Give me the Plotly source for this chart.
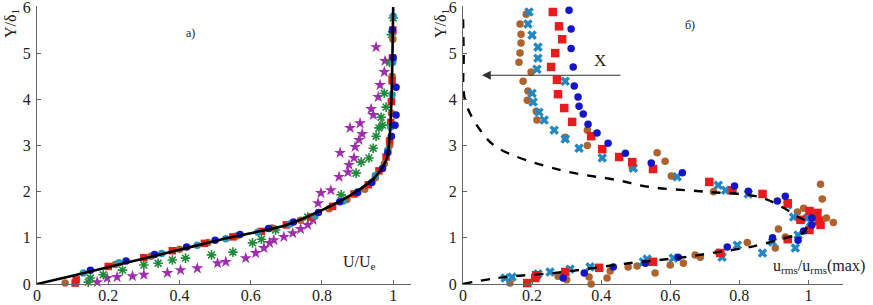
import plotly.graph_objects as go

# ---------------- data: panel a) ----------------
curve_a_x = [0, 0.1, 0.25, 0.4, 0.515, 0.6, 0.7, 0.8, 0.89, 0.946, 0.98, 0.99, 0.995, 0.998, 1.0]
curve_a_y = [0, 0.18, 0.46, 0.74, 0.96, 1.1, 1.28, 1.6, 1.97, 2.29, 2.68, 3.2, 4.0, 5.0, 6.0]

a_blue_x = [0.15, 0.25, 0.33, 0.42, 0.5, 0.57, 0.65, 0.72, 0.79, 0.85, 0.9, 0.94, 0.97, 0.985, 0.995, 1.005, 1.008, 1.008, 1.0, 0.998]
a_blue_y = [0.3, 0.5, 0.64, 0.8, 0.95, 1.07, 1.2, 1.34, 1.55, 1.78, 1.98, 2.2, 2.5, 2.85, 3.2, 3.44, 3.66, 4.26, 4.9, 5.5]
a_red_x = [0.107, 0.11, 0.2, 0.3, 0.38, 0.47, 0.55, 0.63, 0.7, 0.77, 0.83, 0.89, 0.93, 0.96, 0.98, 0.99, 0.993, 0.995, 0.997, 0.998, 0.999]
a_red_y = [0.02, 0.09, 0.38, 0.57, 0.72, 0.88, 1.02, 1.14, 1.28, 1.45, 1.68, 1.95, 2.15, 2.45, 2.75, 3.1, 3.5, 3.95, 4.4, 4.9, 5.5]
a_brown_x = [0.079, 0.22, 0.32, 0.4, 0.48, 0.56, 0.66, 0.74, 0.82, 0.87, 0.92, 0.95, 0.975, 0.99, 0.995, 0.997, 0.999]
a_brown_y = [0.02, 0.42, 0.6, 0.75, 0.9, 1.04, 1.21, 1.38, 1.63, 1.83, 2.05, 2.3, 2.6, 3.0, 3.7, 4.5, 5.3]
a_teal_x = [0.13, 0.23, 0.35, 0.45, 0.53, 0.62, 0.71, 0.78, 0.86, 0.9, 0.95, 0.985, 0.993, 0.997, 0.999, 1.0]
a_teal_y = [0.24, 0.46, 0.66, 0.84, 0.98, 1.12, 1.3, 1.48, 1.8, 2.0, 2.35, 2.9, 3.4, 4.1, 4.8, 5.8]
a_green_x = [0.144, 0.15, 0.186, 0.24, 0.3, 0.34, 0.38, 0.417, 0.49, 0.55, 0.605, 0.63, 0.67, 0.76, 0.854, 0.896, 0.91,
             0.932, 0.944, 0.952, 0.96, 0.97, 0.966, 0.98, 0.975, 0.99, 0.995, 1.0]
a_green_y = [0.04, 0.13, 0.2, 0.3, 0.41, 0.45, 0.52, 0.56, 0.63, 0.69, 0.89, 0.97, 1.17, 1.45, 1.93, 2.4, 2.64,
             2.73, 2.94, 3.2, 3.38, 3.44, 3.61, 3.83, 4.13, 4.8, 5.4, 5.76]
a_mag_x = [0.169, 0.197, 0.225, 0.268, 0.3, 0.366, 0.403, 0.45, 0.507, 0.53, 0.586, 0.614, 0.637, 0.653, 0.665, 0.693,
           0.718, 0.74, 0.76, 0.775, 0.789, 0.797, 0.825, 0.848, 0.873, 0.876, 0.89, 0.851, 0.893, 0.904, 0.913, 0.879,
           0.907, 0.944, 0.938, 0.958, 0.963, 0.975, 0.977, 0.952]
a_mag_y = [0.04, 0.13, 0.15, 0.17, 0.2, 0.24, 0.3, 0.34, 0.45, 0.48, 0.56, 0.67, 0.78, 0.89, 0.95, 1.02,
           1.1, 1.19, 1.28, 1.39, 1.75, 1.97, 2.03, 2.32, 2.42, 2.58, 2.73, 2.84, 2.97, 3.12, 3.25, 3.38,
           3.48, 3.66, 3.79, 4.05, 4.31, 4.59, 4.83, 5.13]

# ---------------- data: panel б) ----------------
curve_b_x = [0, 0.1, 0.29, 0.48, 0.64, 0.736, 0.83, 0.93, 0.986, 0.997, 0.97, 0.93, 0.86, 0.7, 0.54, 0.446, 0.28,
             0.1, 0.05, 0.006, 0.002, 0.0]
curve_b_y = [0, 0.13, 0.26, 0.45, 0.58, 0.69, 0.8, 0.99, 1.12, 1.34, 1.45, 1.64, 1.88, 2.0, 2.1, 2.25, 2.47,
             2.95, 3.33, 3.98, 5.0, 5.85]

b_blue_x = [0.307, 0.313, 0.313, 0.319, 0.322, 0.333, 0.336, 0.348, 0.362, 0.388, 0.42, 0.47, 0.545, 0.635, 0.786,
            0.826, 0.91, 0.933, 1.01, 1.01, 0.986, 0.97, 0.896, 0.765, 0.623, 0.528, 0.435, 0.351, 0.29]
b_blue_y = [5.93, 5.52, 5.1, 4.7, 4.29, 4.05, 3.85, 3.68, 3.46, 3.27, 3.05, 2.83, 2.62, 2.41, 2.12,
            2.01, 1.8, 1.9, 1.43, 1.28, 1.15, 0.95, 1.0, 0.8, 0.58, 0.45, 0.37, 0.24, 0.13]
b_red_x = [0.26, 0.278, 0.287, 0.267, 0.255, 0.272, 0.275, 0.293, 0.316, 0.371, 0.403, 0.452, 0.49, 0.55, 0.713,
           0.78, 0.867, 0.94, 1.003, 1.026, 0.977, 1.03, 1.035, 1.003, 0.94, 0.745, 0.55, 0.394, 0.296, 0.212,
           0.209, 0.186]
b_red_y = [5.89, 5.58, 5.3, 5.0, 4.7, 4.42, 4.11, 3.81, 3.51, 3.2, 2.92, 2.75, 2.64, 2.49, 2.21,
           2.03, 1.95, 1.75, 1.58, 1.54, 1.39, 1.37, 1.28, 1.17, 0.97, 0.67, 0.48, 0.35, 0.26, 0.19,
           0.13, 0.02]
b_cyan_x = [0.191, 0.188, 0.2, 0.217, 0.217, 0.214, 0.296, 0.2, 0.203, 0.22, 0.235, 0.264, 0.296, 0.336, 0.403,
            0.493, 0.62, 0.739, 0.76, 0.826, 0.94, 0.957, 0.997, 1.006, 0.97, 0.962, 0.896, 0.867, 0.794, 0.75,
            0.609, 0.533, 0.522, 0.368, 0.31, 0.252, 0.217, 0.142, 0.122]
b_cyan_y = [5.89, 5.63, 5.39, 5.13, 4.89, 4.65, 4.39, 4.13, 3.94, 3.72, 3.55, 3.33, 3.14, 2.94, 2.73,
            2.51, 2.32, 2.14, 2.03, 1.95, 1.71, 1.45, 1.43, 1.34, 1.06, 0.78, 0.91, 0.67, 0.84, 0.58,
            0.56, 0.54, 0.48, 0.37, 0.32, 0.26, 0.22, 0.15, 0.13]
b_brown_x = [0.183, 0.165, 0.168, 0.168, 0.165, 0.162, 0.197, 0.174, 0.188, 0.186, 0.212, 0.214, 0.36, 0.296, 0.36,
             0.49, 0.562, 0.585, 0.603, 0.725, 1.035, 1.04, 0.968, 0.986, 1.052, 1.072, 0.913, 0.933, 0.823, 0.904,
             0.739, 0.687, 0.672, 0.638, 0.6, 0.556, 0.504, 0.478, 0.426, 0.417, 0.371, 0.365, 0.3, 0.275, 0.136]
b_brown_y = [5.84, 5.63, 5.41, 5.22, 5.0, 4.8, 4.59, 4.39, 4.18, 3.98, 3.74, 3.55, 3.33, 3.18, 3.0,
             2.53, 2.84, 2.66, 2.34, 2.0, 2.16, 1.84, 1.56, 1.64, 1.43, 1.33, 1.19, 1.02, 0.9, 0.78,
             0.69, 0.58, 0.63, 0.45, 0.41, 0.24, 0.39, 0.37, 0.28, 0.13, 0.0, 0.15, 0.09, 0.17, 0.02]

x_ticks = [0, 0.2, 0.4, 0.6, 0.8, 1]
x_tick_text = ["0", "0.2", "0.4", "0.6", "0.8", "1"]
y_ticks = [0, 1, 2, 3, 4, 5, 6]
y_tick_text = ["0", "1", "2", "3", "4", "5", "6"]

# ---------------- colours ----------------
C_BLUE = "#1414c8"
C_RED = "#e81c1c"
C_BROWN = "#b0622c"
C_TEAL = "#2a98b8"
C_CYAN = "#2288c4"
C_GREEN = "#1f8a3a"
C_MAG = "#a02cb0"

fig = go.Figure()


def mk(x, y, ax, sym, color, size, lw=0, lcolor=None):
    fig.add_trace(go.Scatter(
        x=x, y=y, mode="markers", xaxis=ax[0], yaxis=ax[1], showlegend=False,
        marker=dict(symbol=sym, color=color, size=size,
                    line=dict(width=lw, color=lcolor or color)),
        cliponaxis=False))


A = ("x", "y")
B = ("x2", "y2")

# panel a
mk(a_mag_x, a_mag_y, A, "star", C_MAG, 9)
mk(a_green_x, a_green_y, A, "asterisk-open", C_GREEN, 8, 1.6)
mk(a_brown_x, a_brown_y, A, "circle", C_BROWN, 7.5)
mk(a_red_x, a_red_y, A, "square", C_RED, 7.5)
mk(a_teal_x, a_teal_y, A, "circle", C_TEAL, 7.5)
mk(a_blue_x, a_blue_y, A, "circle", C_BLUE, 7.5)
fig.add_trace(go.Scatter(x=curve_a_x, y=curve_a_y, mode="lines", line=dict(color="black", width=2.6, shape="spline"),
                         xaxis="x", yaxis="y", showlegend=False))

# panel b
mk(b_brown_x, b_brown_y, B, "circle", C_BROWN, 7.5)
mk(b_cyan_x, b_cyan_y, B, "x", C_CYAN, 8.5)
mk(b_red_x, b_red_y, B, "square", C_RED, 8.5)
mk(b_blue_x, b_blue_y, B, "circle", C_BLUE, 7.5)
fig.add_trace(go.Scatter(x=curve_b_x, y=curve_b_y, mode="lines",
                         line=dict(color="black", width=2.4, dash="dash", shape="spline"),
                         xaxis="x2", yaxis="y2", showlegend=False))

W, H = 873, 305
serif = "Liberation Serif, Times New Roman, serif"
tickfont = dict(family=serif, size=16, color="#222")
axstyle = dict(showline=True, linecolor="#666", linewidth=1.2, ticks="inside", ticklen=4,
               tickcolor="#666", showgrid=False, zeroline=False, tickfont=tickfont, fixedrange=True,
               automargin=False, ticklabeloverflow="allow")

ydom = [21 / H, (H - 6) / H]
fig.update_layout(
    width=W, height=H, margin=dict(l=0, r=0, t=0, b=0),
    plot_bgcolor="white", paper_bgcolor="white",
    xaxis=dict(domain=[37 / W, 411 / W], range=[0, 1.05], tickvals=x_ticks, ticktext=x_tick_text,
               anchor="y", ticklabelstandoff=-3, **axstyle),
    yaxis=dict(domain=ydom, range=[0, 6.02], tickvals=y_ticks, ticktext=y_tick_text, anchor="x",
               ticklabelstandoff=2, **axstyle),
    xaxis2=dict(domain=[463 / W, 843 / W], range=[0, 1.1], tickvals=x_ticks, ticktext=x_tick_text,
                anchor="y2", ticklabelstandoff=-3, **axstyle),
    yaxis2=dict(domain=ydom, range=[0, 6.02], tickvals=y_ticks, ticktext=y_tick_text, anchor="x2",
                ticklabelstandoff=2, **axstyle),
)

ann = [
    dict(text="Y/δ<sub>1</sub>", x=11 / W, y=1 - 24 / H, xref="paper", yref="paper", textangle=-90,
         xanchor="center", yanchor="middle",
         showarrow=False, font=dict(family=serif, size=16, color="#222")),
    dict(text="Y/δ<sub>1</sub>", x=441 / W, y=1 - 24 / H, xref="paper", yref="paper", textangle=-90,
         xanchor="center", yanchor="middle",
         showarrow=False, font=dict(family=serif, size=16, color="#222")),
    dict(text="а)", x=0.43, y=5.43, xref="x", yref="y", showarrow=False,
         font=dict(family=serif, size=12, color="#222")),
    dict(text="б)", x=0.658, y=5.6, xref="x2", yref="y2", showarrow=False,
         font=dict(family=serif, size=12, color="#222")),
    dict(text="U/U<sub>e</sub>", x=0.905, y=0.47, xref="x", yref="y", showarrow=False,
         font=dict(family=serif, size=16, color="#222")),
    dict(text="u<sub>rms</sub>/u<sub>rms</sub>(max)", x=1.03, y=0.37, xref="x2", yref="y2", showarrow=False,
         font=dict(family=serif, size=16, color="#222")),
    dict(text="X", x=0.397, y=4.83, xref="x2", yref="y2", showarrow=False,
         font=dict(family=serif, size=17, color="#222")),
    dict(text="", x=0.055, y=4.52, ax=0.46, ay=4.52, xref="x2", yref="y2", axref="x2", ayref="y2",
         showarrow=True, arrowhead=2, arrowsize=1.6, arrowwidth=1.1, arrowcolor="#333"),
]
fig.update_layout(annotations=ann)

fig.write_html("out.html", config={"displayModeBar": False},
               post_script="document.body.style.margin='0';")
